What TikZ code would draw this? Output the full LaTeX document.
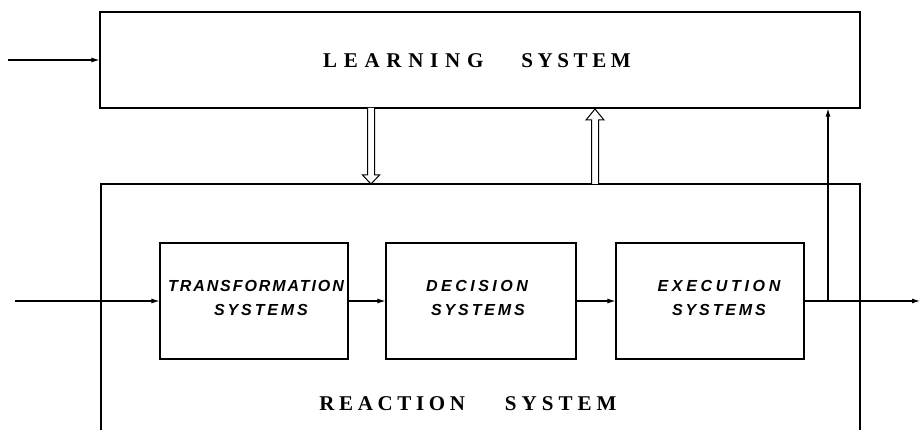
\documentclass[tikz,border=0pt]{standalone}
\usepackage{fontspec}
\usetikzlibrary{arrows.meta,calc}
\newfontfamily\titlefont{Liberation Serif}
\newfontfamily\boxfont{Liberation Sans}
\newcommand{\lsp}[2]{{\addfontfeature{LetterSpace=#1}#2}}
\begin{document}
\begin{tikzpicture}[x=1pt,y=-1pt,
  line width=1.1pt,
  blk/.style={draw, line width=1.1pt, inner sep=0pt},
  lbl/.style={inner sep=0pt, font=\boxfont\bfseries\itshape\fontsize{16}{24.5}\selectfont},
  ttl/.style={inner sep=0pt, font=\titlefont\bfseries\fontsize{21}{24}\selectfont},
  arr/.style={-{Latex[length=8pt,width=5pt]}},
  hollow/.style={draw, line width=1pt, fill=white}]
\useasboundingbox (0,0) rectangle (920,430);
% learning system
\node[blk, minimum width=760pt, minimum height=96pt] (L) at (480,60) {};
\node[ttl] (Lt) at (477,61) {\lsp{32}{LEARNING}\hspace{38pt}\lsp{22}{SYSTEM}};
% reaction system (open at bottom)
\coordinate (Rtl) at (101,184);
\coordinate (Rtr) at (860,184);
\coordinate (Rbl) at (101,432);
\coordinate (Rbr) at (860,432);
\draw (Rbl) -- (Rtl) -- (Rtr) -- (Rbr);
\node[ttl] (Rt) at (468,404) {\lsp{22}{REACTION}\hspace{40pt}\lsp{24}{SYSTEM}};
% inner blocks
\node[blk, minimum width=188pt, minimum height=116pt] (T) at (254,301) {};
\node[blk, minimum width=190pt, minimum height=116pt] (D) at (481,301) {};
\node[blk, minimum width=188pt, minimum height=116pt] (E) at (710,301) {};
\node[lbl] (Tt1) at (256,286) {\lsp{12}{TRANSFORMATION}};
\node[lbl] (Tt2) at (261,310) {\lsp{18}{SYSTEMS}};
\node[lbl] (Dt1) at (477,286) {\lsp{22}{DECISION}};
\node[lbl] (Dt2) at (478,310) {\lsp{18}{SYSTEMS}};
\node[lbl] (Et1) at (719,286) {\lsp{23}{EXECUTION}};
\node[lbl] (Et2) at (719,310) {\lsp{18}{SYSTEMS}};
% inputs
\coordinate (inL) at (8,60);
\draw[arr] (inL) -- (L.west |- inL);
\coordinate (inT) at (15,301);
\draw[arr] (inT) -- (T.west);
\draw[arr] (T.east) -- (D.west);
\draw[arr] (D.east) -- (E.west);
% output
\coordinate (out) at (920,301);
\draw[arr] (E.east) -- (out);
\coordinate (fb) at (828,301);
\draw[arr] (fb) -- (fb |- L.south);
% hollow arrows
\coordinate (dn) at (371,108);
\draw[hollow] ($(dn)+(-3.5,0)$) -- ($(dn)+(-3.5,67)$) -- ($(dn)+(-8.5,67)$) -- ($(dn)+(0,76)$) -- ($(dn)+(8.5,67)$) -- ($(dn)+(3.5,67)$) -- ($(dn)+(3.5,0)$);
\coordinate (up) at (595,184);
\draw[hollow] ($(up)+(-3.5,0)$) -- ($(up)+(-3.5,-64)$) -- ($(up)+(-9,-64)$) -- ($(up)+(0,-75)$) -- ($(up)+(9,-64)$) -- ($(up)+(3.5,-64)$) -- ($(up)+(3.5,0)$);
\end{tikzpicture}
\end{document}
